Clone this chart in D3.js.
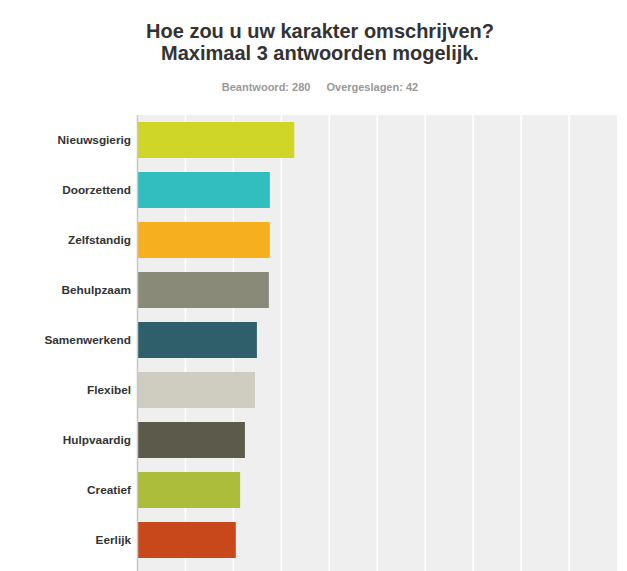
<!DOCTYPE html>
<html><head><meta charset="utf-8">
<script src="https://cdn.jsdelivr.net/npm/d3@7"></script>
<style>body{margin:0;background:#fff;}svg{display:block;font-family:"Liberation Sans",Arial,sans-serif;}</style>
</head><body>
<script>
const categories = ["Nieuwsgierig","Doorzettend","Zelfstandig","Behulpzaam","Samenwerkend","Flexibel","Hulpvaardig","Creatief","Eerlijk"];
const values = [32.7, 27.6, 27.6, 27.4, 24.9, 24.5, 22.4, 21.4, 20.5];
const colors = ["#d0d628","#32bdbf","#f6b01f","#8a8a78","#2e5f6b","#cfcdc0","#5c5a4b","#abbd3a","#c8471b"];
const ticks = [0,10,20,30,40,50,60,70,80,90,100];
const titleLines = ["Hoe zou u uw karakter omschrijven?","Maximaal 3 antwoorden mogelijk."];
const subtitle = ["Beantwoord: 280","Overgeslagen: 42"];

const W = 627, H = 571;
const svg = d3.select("body").append("svg").attr("width", W).attr("height", H);
const plot = {left: 137.5, right: 617, top: 115, bottom: 571};
const x = d3.scaleLinear().domain([0,100]).range([plot.left, plot.right]);
const y = d3.scaleBand().domain(categories).range([plot.top, plot.top + 50*categories.length]).paddingInner(0.28).paddingOuter(0.14);

svg.append("rect").attr("x", plot.left).attr("y", plot.top).attr("width", plot.right-plot.left).attr("height", plot.bottom-plot.top).attr("fill", "#efefef");

svg.append("g").selectAll("line").data(ticks.slice(1, -1)).join("line")
  .attr("x1", d=>x(d)).attr("x2", d=>x(d)).attr("y1", plot.top).attr("y2", plot.bottom)
  .attr("stroke", "#fff").attr("stroke-width", 1.5);

svg.append("g").selectAll("rect").data(categories).join("rect")
  .attr("x", x(0)).attr("y", d=>y(d)).attr("width", (d,i)=>x(values[i])-x(0)).attr("height", y.bandwidth())
  .attr("fill", (d,i)=>colors[i]);

svg.append("line").attr("x1", plot.left).attr("x2", plot.left).attr("y1", plot.top).attr("y2", plot.bottom)
  .attr("stroke", "#c8c8c8").attr("stroke-width", 1.5);

svg.append("g").selectAll("text").data(categories).join("text")
  .attr("x", 131).attr("y", d=>y(d)+y.bandwidth()/2).attr("dy", "0.35em")
  .attr("text-anchor", "end").attr("font-size", "11.8px").attr("font-weight", "bold").attr("fill", "#333")
  .text(d=>d);

svg.append("g").selectAll("text").data(titleLines).join("text")
  .attr("x", 320).attr("y", (d,i)=>38+i*22).attr("text-anchor", "middle")
  .attr("font-size", "20px").attr("font-weight", "bold").attr("fill", "#333").text(d=>d);

const sub = svg.append("text").attr("x", 320).attr("y", 91).attr("text-anchor", "middle")
  .attr("font-size", "11px").attr("font-weight", "bold").attr("fill", "#999");
sub.append("tspan").text(subtitle[0]);
sub.append("tspan").attr("dx", 16).text(subtitle[1]);
</script>
</body></html>
